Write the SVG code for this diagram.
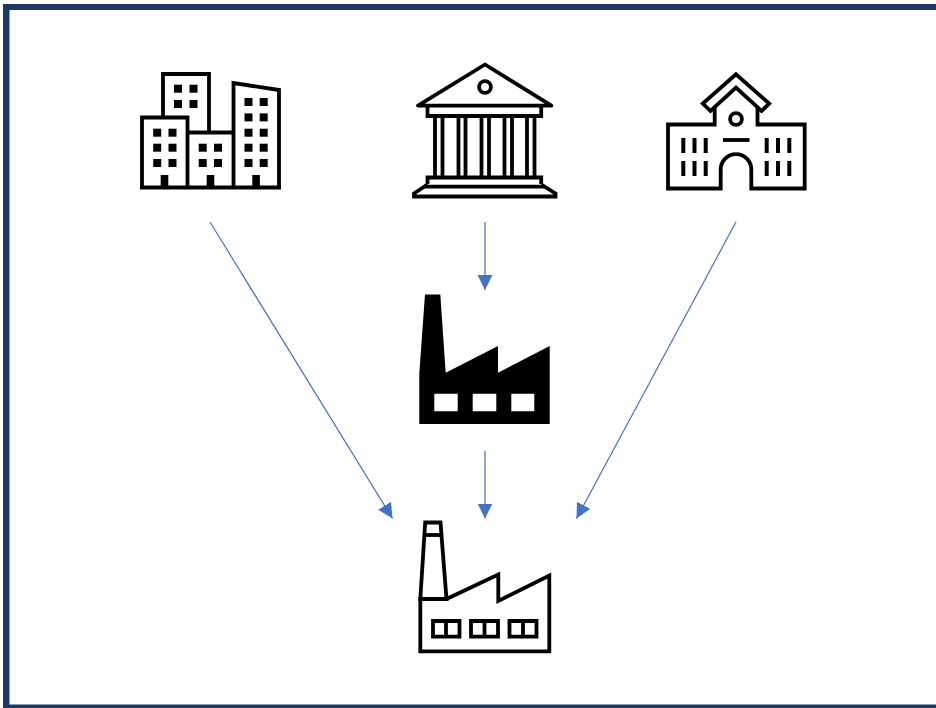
<svg xmlns="http://www.w3.org/2000/svg" width="936" height="708" viewBox="0 0 936 708">
<style>
.o{fill:none;stroke:#000;stroke-width:3.8;stroke-miterlimit:8}
.k{fill:#000}
.c{fill:none;stroke:#4472c4;stroke-width:1.2}
.b{stroke:#000;stroke-width:4;fill:none}
</style>
<defs>
<marker id="a" markerUnits="userSpaceOnUse" markerWidth="16" markerHeight="16" refX="15" refY="8" orient="auto"><path d="M0 0.5L15 8L0 15.5Z" fill="#4472c4"/></marker>
<path id="win" d="M0 0h8v8h-8z"/>
</defs>
<rect width="936" height="708" fill="#fff"/>
<path id="frame" fill="#1f3864" d="M3 4H936V10H9.5V704.5H936V708H3Z"/>
<g id="connectors">
<line class="c" x1="210" y1="222" x2="392.5" y2="518.5" marker-end="url(#a)"/>
<line class="c" x1="485" y1="222" x2="485" y2="290" marker-end="url(#a)"/>
<line class="c" x1="485" y1="451" x2="485" y2="518.5" marker-end="url(#a)"/>
<line class="c" x1="736" y1="222" x2="576.5" y2="518.5" marker-end="url(#a)"/>
</g>
<g id="city">
<path class="o" d="M163 117V74H209V132.5"/>
<path class="o" d="M142 187.5V117.5H187.5V187.5"/>
<path class="o" d="M187.5 132.5H233"/>
<path class="o" d="M233.5 187.5V83L279 90V187.5"/>
<path class="o" d="M140 187.5H281"/>
<g class="k">
<use href="#win" x="174" y="84.7"/><use href="#win" x="189.5" y="84.7"/><use href="#win" x="174" y="100"/><use href="#win" x="189.5" y="100"/>
<use href="#win" x="153.2" y="128.7"/><use href="#win" x="168.5" y="128.7"/><use href="#win" x="153.2" y="143.7"/><use href="#win" x="168.5" y="143.7"/><use href="#win" x="153.2" y="159"/><use href="#win" x="168.5" y="159"/>
<use href="#win" x="198.7" y="143.7"/><use href="#win" x="214" y="143.7"/><use href="#win" x="198.7" y="159"/><use href="#win" x="214" y="159"/>
<use href="#win" x="244.5" y="98"/><use href="#win" x="259.7" y="98"/><use href="#win" x="244.5" y="113.4"/><use href="#win" x="259.7" y="113.4"/><use href="#win" x="244.5" y="128.7"/><use href="#win" x="259.7" y="128.7"/><use href="#win" x="244.5" y="143.7"/><use href="#win" x="259.7" y="143.7"/><use href="#win" x="244.5" y="159"/><use href="#win" x="259.7" y="159"/>
<rect x="160.7" y="175" width="7.6" height="13"/><rect x="206.7" y="175" width="7.6" height="13"/><rect x="252.3" y="175" width="7.6" height="13"/>
</g>
</g>
<g id="bank">
<path class="o" stroke-linejoin="round" d="M485 64.5L418 105.6H551.5Z"/>
<circle class="o" cx="485" cy="87" r="5.9"/>
<path class="o" d="M427.5 106V116H541.2V106"/>
<path class="o" d="M435 116.5V178M442.5 116.5V178M458.5 116.5V178M465.5 116.5V178M481.5 116.5V178M489 116.5V178M504.5 116.5V178M512 116.5V178M527 116.5V178M534.5 116.5V178"/>
<path class="o" d="M427.5 184V177.5H541.2V184"/>
<path class="o" d="M424 186.7H545"/>
<path class="o" d="M427.5 184.5L414 193.5V196.5H555.5V193.5L541.2 184.5"/>
</g>
<g id="school">
<path class="o" d="M736 74.3L702.8 103.5L710.5 111L736 87.5L761.5 111L769.2 103.5Z"/>
<path class="o" d="M714.7 107V124.5H668V188.5H720.7V169.5A15.3 15.3 0 0 1 751.3 169.5V188.5H804.7V124.5H757.5V107"/>
<circle class="o" cx="736" cy="119" r="5.9"/>
<path class="o" d="M723 140H749.5"/>
<path class="b" d="M683.3 138V153M694.5 138V153M705.7 138V153M683.3 161V176M694.5 161V176M705.7 161V176M766.7 138V153M778 138V153M789.3 138V153M766.7 161V176M778 161V176M789.3 161V176"/>
</g>
<g id="factory-solid">
<path fill-rule="evenodd" class="k" d="M425 294.5H440.3L445.7 372.7L498 346V372.7L549.7 346V424H419.3V373ZM434.3 393.7V411.3H457.7V393.7ZM472.7 393.7V411.3H496.3V393.7ZM511.3 393.7V411.3H534.3V393.7Z"/>
</g>
<g id="factory-outline">
<path class="o" d="M420.3 599L425.2 522.5H440.5L446.5 599Z"/>
<path class="o" d="M424 535H442"/>
<path class="o" d="M420.3 597V651.3H549.3V575.5L498.3 601V574.5L446.5 599"/>
<path class="o" d="M433 621H459.5V636.7H433ZM446 621V636.7M471 621H498V636.7H471ZM484.5 621V636.7M509.5 621H536.5V636.7H509.5ZM523 621V636.7"/>
</g>
</svg>
